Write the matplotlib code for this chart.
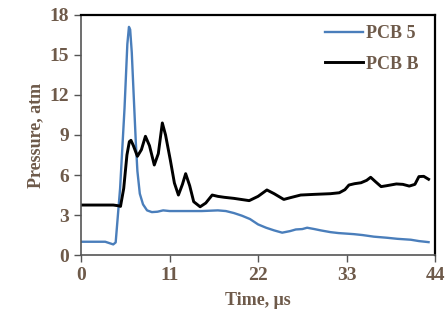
import matplotlib
matplotlib.use('Agg')
import matplotlib.pyplot as plt

# dados
t_pcb5 = [0, 1, 2, 3, 3.5, 4.0, 4.3, 4.85, 5.4, 5.75, 5.95, 6.1, 6.3, 6.5, 6.8, 7.0, 7.3, 7.7,
          8.2, 8.8, 9.5, 10.2, 11, 13, 15, 17, 18, 19, 20, 21, 22, 23, 24, 25, 26, 26.7, 27.5,
          28.1, 29, 29.8, 31, 32, 33.9, 35, 36.4, 38, 39.3, 41, 42, 43.2]
p_pcb5 = [1.0, 1.0, 1.0, 1.0, 0.9, 0.8, 0.95, 5.0, 11.0, 15.8, 17.1, 16.9, 15.2, 12.5, 8.5, 6.3,
          4.6, 3.8, 3.35, 3.22, 3.25, 3.35, 3.3, 3.3, 3.3, 3.35, 3.3, 3.15, 2.95, 2.7, 2.3,
          2.05, 1.85, 1.68, 1.8, 1.92, 1.95, 2.05, 1.95, 1.85, 1.72, 1.65, 1.57, 1.5, 1.38,
          1.3, 1.22, 1.15, 1.05, 0.97]

t_pcbb = [0, 2, 4, 4.6, 4.9, 5.3, 5.7, 6.0, 6.2, 6.5, 7.0, 7.5, 8.0, 8.5, 9.1, 9.6, 10.1, 10.5,
          11.1, 11.6, 12.1, 12.6, 13.0, 13.5, 14.0, 14.8, 15.5, 16.3, 17.0, 17.8, 19, 20.9,
          22, 23.1, 24, 25.2, 26, 27.3, 29, 31, 32.1, 32.8, 33.3, 34, 34.8, 35.5, 36.0, 36.6,
          37.3, 38, 39.2, 40, 40.8, 41.5, 42, 42.6, 43.2]
p_pcbb = [3.75, 3.75, 3.75, 3.7, 3.65, 5.0, 7.5, 8.5, 8.6, 8.2, 7.4, 7.9, 8.9, 8.2, 6.75, 7.6,
          9.9, 9.0, 7.1, 5.4, 4.5, 5.3, 6.1, 5.2, 4.0, 3.62, 3.9, 4.5, 4.4, 4.33, 4.25, 4.08,
          4.4, 4.88, 4.6, 4.17, 4.3, 4.5, 4.55, 4.6, 4.67, 4.9, 5.25, 5.35, 5.42, 5.6, 5.83,
          5.5, 5.13, 5.2, 5.33, 5.3, 5.17, 5.3, 5.88, 5.9, 5.68]

x_ticks = [0, 11, 22, 33, 44]
y_ticks = [0, 3, 6, 9, 12, 15, 18]

cor_txt = '#6e5a4a'
plt.rcParams['font.family'] = 'Liberation Serif'
plt.rcParams['font.weight'] = 'bold'
plt.rcParams['axes.labelweight'] = 'bold'

fig = plt.figure(figsize=(4.48, 3.3), dpi=100)
ax = fig.add_axes([0.181, 0.227, 0.79, 0.728])

ax.plot(t_pcb5, p_pcb5, color='#4a7ebb', lw=1.7, label='PCB 5', solid_joinstyle='round')
ax.plot(t_pcbb, p_pcbb, color='black', lw=2.1, label='PCB B', solid_joinstyle='round')

ax.set_xlim(0, 44)
ax.set_ylim(0, 18)
ax.set_xticks(x_ticks)
ax.set_yticks(y_ticks)
ax.tick_params(labelsize=14, colors='#555555', labelcolor=cor_txt, length=5, width=1)

for s in ['left', 'bottom']:
    ax.spines[s].set_color('#555555')
    ax.spines[s].set_linewidth(1.2)
for s in ['top', 'right']:
    ax.spines[s].set_color('black')
    ax.spines[s].set_linewidth(1.6)

ax.set_xlabel('Time, μs', fontsize=13, color=cor_txt, labelpad=6)
ax.set_ylabel('Pressure, atm', fontsize=13, color=cor_txt, labelpad=4)

leg = ax.legend(loc='upper right', bbox_to_anchor=(1.0, 1.025), frameon=False,
                prop={'size': 13, 'weight': 'bold'}, handlelength=2.1, handletextpad=0.2,
                labelspacing=0.75, labelcolor=cor_txt)

fig.savefig('out.png', dpi=100)
